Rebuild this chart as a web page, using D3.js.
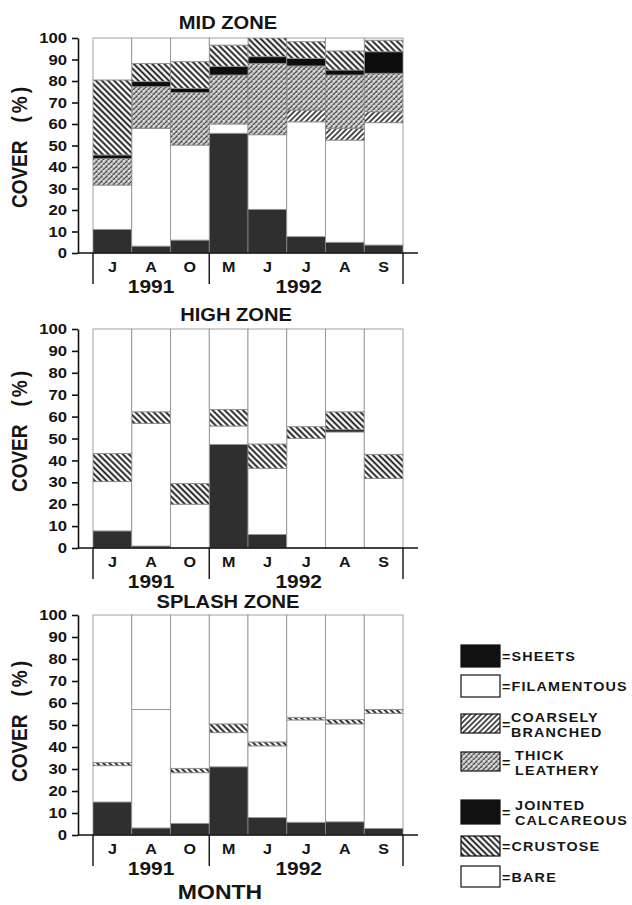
<!DOCTYPE html>
<html><head><meta charset="utf-8">
<script src="https://cdn.jsdelivr.net/npm/d3@7"></script>
<style>
body{margin:0;background:#fff}
svg{display:block}
text{font-family:"Liberation Sans",Arial,Helvetica,sans-serif;font-weight:bold;fill:#151515}
</style>
</head><body>
<svg id="chart" width="632" height="905"></svg>
<script>
// ---------- DATA ----------
const months = ["J","A","O","M","J","J","A","S"];
const years = ["1991","1992"];
const yTicks = [0,10,20,30,40,50,60,70,80,90,100];
const seriesKeys = ["sheets","filamentous","coarse","thick","jointed","crustose","bare"];
const legendLabels = [["SHEETS"],["FILAMENTOUS"],["COARSELY","BRANCHED"],["THICK","LEATHERY"],["JOINTED","CALCAREOUS"],["CRUSTOSE"],["BARE"]];
const zoneTitles = ["MID ZONE","HIGH ZONE","SPLASH ZONE"];
const axisTitle = ["COVER","(%)"];
const xTitle = "MONTH";

// MID ZONE (% cover, stacked bottom to top)
const midSheets      = [11, 3.2, 6, 55.7, 20.3, 7.6, 5, 3.7];
const midFilamentous = [20.6, 54.8, 44.2, 4.3, 34.7, 53.4, 47.5, 56.9];
const midCoarse      = [0, 0, 0, 0, 0, 5.5, 5.5, 5.1];
const midThick       = [12.4, 19.4, 24.4, 22.8, 33.2, 20.5, 24.8, 17.9];
const midJointed     = [1.6, 2.3, 2, 3.9, 3.1, 3.5, 2.3, 10];
const midCrustose    = [34.9, 8.5, 12.4, 10, 8.7, 7.8, 8.9, 5.4];
const midBare        = [19.5, 11.8, 11, 3.3, 0, 1.7, 6, 1];

// HIGH ZONE
const highSheets      = [7.8, 0.9, 0, 47.3, 6.2, 0, 0, 0];
const highFilamentous = [22.5, 56, 20, 8.4, 30.2, 50, 53, 31.8];
const highCoarse      = [0, 0, 0, 0, 0, 0, 0, 0];
const highThick       = [0, 0, 0, 0, 0, 0, 0, 0];
const highJointed     = [0, 0, 0, 0, 0, 0, 1, 0];
const highCrustose    = [12.9, 5.3, 9.5, 7.6, 11.1, 5.4, 8.2, 11];
const highBare        = [56.8, 37.8, 70.5, 36.7, 52.5, 44.6, 37.8, 57.2];

// SPLASH ZONE
const splashSheets      = [15, 3.2, 5.3, 31, 7.9, 5.8, 6, 3];
const splashFilamentous = [16.5, 53.8, 23, 15.5, 32.6, 46.5, 44.5, 52.3];
const splashCoarse      = [0, 0, 0, 0, 0, 0, 0, 0];
const splashThick       = [0, 0, 0, 0, 0, 0, 0, 0];
const splashJointed     = [0, 0, 0, 0, 0, 0, 0, 0];
const splashCrustose    = [1.5, 0, 2, 4, 1.8, 1.2, 2, 1.8];
const splashBare        = [67, 43, 69.7, 49.5, 57.7, 46.5, 47.5, 42.9];

// ---------- LAYOUT ----------
const SX = 1.15; // horizontal stretch of the lettering
const plotLeft = 93, plotRight = 403, axisX = 78, axisEnd = 418;
const zones = [
  {title: zoneTitles[0], tx: 228, ty: 29,  y0: 253, y100: 38,  coverC: 146,
   series: [midSheets, midFilamentous, midCoarse, midThick, midJointed, midCrustose, midBare]},
  {title: zoneTitles[1], tx: 236, ty: 321, y0: 548, y100: 329, coverC: 430,
   series: [highSheets, highFilamentous, highCoarse, highThick, highJointed, highCrustose, highBare]},
  {title: zoneTitles[2], tx: 228, ty: 608, y0: 835, y100: 615, coverC: 720,
   series: [splashSheets, splashFilamentous, splashCoarse, splashThick, splashJointed, splashCrustose, splashBare]}
];

const svg = d3.select("#chart");
const defs = svg.append("defs");

function hatch(id, angle, spacing, sw, color, bg) {
  const p = defs.append("pattern").attr("id", id).attr("patternUnits", "userSpaceOnUse")
    .attr("width", spacing).attr("height", spacing).attr("patternTransform", `rotate(${angle})`);
  p.append("rect").attr("width", spacing).attr("height", spacing).attr("fill", bg);
  p.append("line").attr("x1", spacing / 2).attr("y1", -1).attr("x2", spacing / 2).attr("y2", spacing + 1)
    .attr("stroke", color).attr("stroke-width", sw);
}
hatch("crust", -45, 4.3, 1.8, "#111", "#fff");
hatch("coarse", 45, 3.8, 1.5, "#1a1a1a", "#fff");
// thick leathery: grey stipple texture
const tp = defs.append("pattern").attr("id", "thick").attr("patternUnits", "userSpaceOnUse")
  .attr("width", 5).attr("height", 5);
tp.append("rect").attr("width", 5).attr("height", 5).attr("fill", "#bdbdbd");
tp.append("path").attr("d", "M0,3 L2.5,0.5 M2.5,5.5 L5,3").attr("stroke", "#4a4a4a").attr("stroke-width", 1.2);
tp.append("rect").attr("x", 3.2).attr("y", 0.4).attr("width", 1.3).attr("height", 1.3).attr("fill", "#fff");
tp.append("rect").attr("x", 0.6).attr("y", 3.4).attr("width", 1.1).attr("height", 1.1).attr("fill", "#fff");

const fills = {
  sheets: "#2f2f2f", filamentous: "#fff", coarse: "url(#coarse)", thick: "url(#thick)",
  jointed: "#0d0d0d", crustose: "url(#crust)", bare: "#fff"
};

const x = d3.scaleBand().domain(d3.range(months.length)).range([plotLeft, plotRight]).padding(0);

zones.forEach(z => {
  const g = svg.append("g");
  const y = d3.scaleLinear().domain([0, 100]).range([z.y0, z.y100]);
  const table = months.map((m, i) => {
    const o = {i};
    seriesKeys.forEach((k, s) => o[k] = z.series[s][i]);
    return o;
  });
  const stacked = d3.stack().keys(seriesKeys)(table);

  stacked.forEach(layer => {
    g.append("g").selectAll("rect")
      .data(layer.filter(d => d[1] - d[0] > 0))
      .join("rect")
      .attr("x", d => x(d.data.i))
      .attr("width", x.bandwidth())
      .attr("y", d => y(d[1]))
      .attr("height", d => y(d[0]) - y(d[1]))
      .attr("fill", fills[layer.key])
      .attr("stroke", "#8a8a8a")
      .attr("stroke-width", 0.8);
  });

  // y axis
  const ax = g.append("g").attr("transform", `translate(${axisX},0)`)
    .call(d3.axisLeft(y).tickValues(yTicks).tickSize(6).tickSizeOuter(0));
  ax.select(".domain").attr("stroke", "#111").attr("stroke-width", 1.6);
  ax.selectAll(".tick line").attr("stroke", "#111").attr("stroke-width", 1.6);
  ax.selectAll(".tick text")
    .attr("x", -11 / SX).attr("transform", `scale(${SX},1)`)
    .style("font-size", "14.5px").style("font-family", "'Liberation Sans',Arial,sans-serif")
    .style("font-weight", "bold").attr("fill", "#151515");

  // baseline
  g.append("line").attr("x1", axisX).attr("x2", axisEnd).attr("y1", z.y0).attr("y2", z.y0)
    .attr("stroke", "#111").attr("stroke-width", 1.6);

  // separators between years
  [x(0), x(3), x(months.length - 1) + x.bandwidth()].forEach(sx => {
    g.append("line").attr("x1", sx).attr("x2", sx).attr("y1", z.y0).attr("y2", z.y0 + 31)
      .attr("stroke", "#111").attr("stroke-width", 1.4);
  });

  // month labels
  months.forEach((m, i) => {
    g.append("text").attr("text-anchor", "middle")
      .attr("transform", `translate(${x(i) + x.bandwidth() / 2},${z.y0 + 19}) scale(${SX},1)`)
      .style("font-size", "14px").text(m);
  });
  // year labels
  const yearX = [x(1) + x.bandwidth() / 2, x(5) + 12];
  years.forEach((yr, k) => {
    g.append("text").attr("text-anchor", "middle")
      .attr("transform", `translate(${yearX[k]},${z.y0 + 40}) scale(1.1,1)`)
      .style("font-size", "19px").text(yr);
  });

  // title
  g.append("text").attr("text-anchor", "middle")
    .attr("transform", `translate(${z.tx},${z.ty}) scale(${SX},1)`)
    .style("font-size", "17.5px").text(z.title);

  // y title
  const yt = g.append("text").attr("text-anchor", "middle")
    .attr("transform", `translate(27,${z.coverC}) scale(${SX},1) rotate(-90)`)
    .style("font-size", "19px");
  yt.append("tspan").text(axisTitle[0]);
  yt.append("tspan").attr("dx", 18).style("letter-spacing", "3px").text(axisTitle[1]);
});

// x title
svg.append("text").attr("text-anchor", "middle")
  .attr("transform", `translate(220,899) scale(${SX},1)`)
  .style("font-size", "20px").text(xTitle);

// ---------- LEGEND ----------
const legendFills = ["#111", "#fff", "url(#coarse)", "url(#thick)", "#111", "url(#crust)", "#fff"];
const swatchTop = [645, 675, 714, 752, 800, 836, 866];
const swatchH = [22, 22, 19, 19, 24, 20, 21];
const lg = svg.append("g");
legendLabels.forEach((lines, i) => {
  lg.append("rect").attr("x", 461).attr("y", swatchTop[i]).attr("width", 39).attr("height", swatchH[i])
    .attr("fill", legendFills[i]).attr("stroke", "#111").attr("stroke-width", 1.2);
  const cy = swatchTop[i] + swatchH[i] / 2;
  if (lines.length === 1) {
    lg.append("text").attr("transform", `translate(502,${cy + 5}) scale(${SX},1)`)
      .style("font-size", "12.5px").style("letter-spacing", "1px").text("=" + lines[0]);
  } else {
    lg.append("text").attr("transform", `translate(502,${cy + 5}) scale(${SX},1)`)
      .style("font-size", "12.5px").text("=");
    lines.forEach((ln, k) => {
      lg.append("text").attr("transform", `translate(${i === 2 ? 511 : 515},${cy - 2 + k * 15}) scale(${SX},1)`)
        .style("font-size", "12.5px").style("letter-spacing", "1px").text(ln);
    });
  }
});
</script>
</body></html>
